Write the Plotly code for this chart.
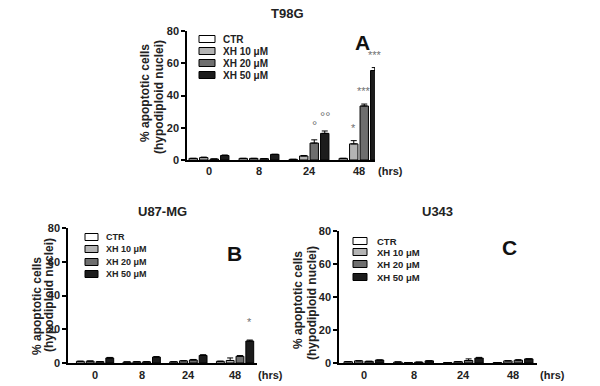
import plotly.graph_objects as go

times = ["0", "8", "24", "48"]
series = ["CTR", "XH 10 μM", "XH 20 μM", "XH 50 μM"]
colors = ["#ffffff", "#b4b4b4", "#6e6e6e", "#1c1c1c"]

# Panel A: T98G
a_vals = {
    "CTR": [1.0, 1.0, 0.4, 1.0],
    "XH 10 μM": [1.5, 1.0, 2.5, 10.0],
    "XH 20 μM": [0.6, 0.8, 10.5, 33.5],
    "XH 50 μM": [2.8, 3.5, 16.5, 55.5],
}
a_err = {
    "CTR": [0, 0, 0, 0],
    "XH 10 μM": [0.3, 0, 0.3, 2.0],
    "XH 20 μM": [0, 0, 2.0, 1.2],
    "XH 50 μM": [0.3, 0, 1.5, 1.8],
}
# Panel B: U87-MG
b_vals = {
    "CTR": [1.0, 0.6, 0.7, 1.0],
    "XH 10 μM": [1.1, 0.7, 1.3, 1.5],
    "XH 20 μM": [0.8, 0.7, 1.8, 4.0],
    "XH 50 μM": [3.0, 3.5, 4.5, 13.0],
}
b_err = {
    "CTR": [0, 0, 0, 0],
    "XH 10 μM": [0, 0, 0, 1.5],
    "XH 20 μM": [0, 0, 0.3, 0.4],
    "XH 50 μM": [0.3, 0.3, 0.4, 0.6],
}
# Panel C: U343
c_vals = {
    "CTR": [0.8, 0.6, 0.3, 0.3],
    "XH 10 μM": [1.3, 0.3, 0.8, 1.3],
    "XH 20 μM": [1.0, 0.5, 1.5, 1.7],
    "XH 50 μM": [1.8, 1.3, 3.0, 2.5],
}
c_err = {
    "CTR": [0, 0, 0, 0],
    "XH 10 μM": [0, 0, 0, 0],
    "XH 20 μM": [0, 0, 1.0, 0.3],
    "XH 50 μM": [0, 0, 0.4, 0],
}

# significance marks: (series, time index, label)
a_marks = [("XH 20 μM", 2, "°"), ("XH 50 μM", 2, "°°"), ("XH 10 μM", 3, "*"),
           ("XH 20 μM", 3, "***"), ("XH 50 μM", 3, "***")]
b_marks = [("XH 50 μM", 3, "*")]
c_marks = []

BARGAP = 0.16
GROUPGAP = 0.2

FONT = "Liberation Sans, Arial, sans-serif"

panels = [
    dict(title="T98G", vals=a_vals, err=a_err, marks=a_marks, letter="A",
         x0=187, x1=375, y0=160, y80=31, xr=[-0.44, 3.32], tpos=(287, 13),
         lpos=(362, 43), leg=(199, 215, [39, 51, 63, 75], 221), legsize=10,
         ytx=(145, 159), yty=(93, 97), hrs=(390, 171), xl=171, markshift=5),
    dict(title="U87-MG", vals=b_vals, err=b_err, marks=b_marks, letter="B",
         x0=68, x1=257, y0=363, y80=228, xr=[-0.58, 3.47], tpos=(162, 212),
         lpos=(234, 253), leg=(85, 98, [237, 249, 262, 274], 104), legsize=9,
         ytx=(37, 49), yty=(306, 295), hrs=(270, 375), xl=375, markshift=10),
    dict(title="U343", vals=c_vals, err=c_err, marks=c_marks, letter="C",
         x0=339, x1=537, y0=363, y80=231, xr=[-0.5, 3.48], tpos=(437, 212),
         lpos=(509, 248), leg=(353, 367, [241, 252, 264, 277], 375), legsize=9.5,
         ytx=(298, 312), yty=(300, 303), hrs=(552, 375), xl=375, markshift=5),
]

W, H = 600, 386
fig = go.Figure()
annotations = []
shapes = []

def px(x):
    return x / W

def py(y):
    return 1 - y / H

nser = len(series)
bw = (1 - BARGAP) / nser
tickfont = dict(family=FONT, size=11, color="#222222", weight="bold")
ytfont = dict(family=FONT, size=12, color="#222222", weight="bold")

def note(x, y, text, font, xref="paper", yref="paper", **kw):
    d = dict(x=x, y=y, xref=xref, yref=yref, text=text, showarrow=False, font=font,
             xanchor="center", yanchor="middle")
    d.update(kw)
    annotations.append(d)

for k, p in enumerate(panels):
    suffix = "" if k == 0 else str(k + 1)
    xa = "x" + suffix
    ya = "y" + suffix
    for i, s in enumerate(series):
        fig.add_trace(go.Bar(
            x=list(range(len(times))), y=p["vals"][s], name=s,
            marker=dict(color=colors[i], line=dict(color="#000000", width=1)),
            error_y=dict(type="data", array=p["err"][s], arrayminus=[0] * len(times),
                         symmetric=False, color="#000000", thickness=1, width=3),
            xaxis=xa, yaxis=ya, showlegend=False,
        ))
    fig.layout["xaxis" + suffix] = dict(
        domain=[px(p["x0"]), px(p["x1"])], range=p["xr"], anchor=ya,
        showline=True, linecolor="#000000", linewidth=1.5, ticks="",
        showticklabels=False, showgrid=False, zeroline=False, fixedrange=True,
        automargin=False,
    )
    fig.layout["yaxis" + suffix] = dict(
        domain=[py(p["y0"]), py(p["y80"])], range=[0, 80], anchor=xa,
        tickvals=[0, 20, 40, 60, 80], showline=True, linecolor="#000000",
        linewidth=1.5, ticks="outside", ticklen=4, tickwidth=1.5, tickcolor="#000000",
        tickfont=tickfont, showgrid=False, zeroline=False, fixedrange=True,
        ticklabelstandoff=0, automargin=False,
    )
    for j, t in enumerate(times):
        note(j, py(p["xl"]), t, tickfont, xref=xa)
    note(px(p["hrs"][0]), py(p["hrs"][1]), "(hrs)", tickfont)
    note(px(p["tpos"][0]), py(p["tpos"][1]), p["title"],
         dict(family=FONT, size=13, color="#222222", weight="bold"))
    note(px(p["lpos"][0]), py(p["lpos"][1]), p["letter"],
         dict(family=FONT, size=21, color="#111111", weight="bold"))
    note(px(p["ytx"][0]), py(p["yty"][0]), "% apoptotic cells", ytfont, textangle=-90)
    note(px(p["ytx"][1]), py(p["yty"][1]), "(hypodiploid nuclei)", ytfont, textangle=-90)
    bx0, bx1, rows, tx = p["leg"]
    for i, s in enumerate(series):
        yc = rows[i]
        shapes.append(dict(type="rect", xref="paper", yref="paper",
                           x0=px(bx0), x1=px(bx1), y0=py(yc + 3.5), y1=py(yc - 3.5),
                           fillcolor=colors[i], line=dict(color="#000000", width=1)))
        note(px(tx), py(yc), s,
             dict(family=FONT, size=p["legsize"], color="#222222", weight="bold"),
             xanchor="left")
    for s, j, lab in p["marks"]:
        i = series.index(s)
        xoff = -(1 - BARGAP) / 2 + (i + 0.5) * bw
        top = p["vals"][s][j] + p["err"][s][j]
        size = 13 if "°" in lab else 11
        note(j + xoff, top, lab, dict(family=FONT, size=size, color="#707070"),
             xref=xa, yref=ya, yanchor="bottom", yshift=p["markshift"])

fig.update_layout(
    width=W, height=H, margin=dict(l=0, r=0, t=0, b=0, autoexpand=False),
    paper_bgcolor="#ffffff", plot_bgcolor="#ffffff",
    barmode="group", bargap=BARGAP, bargroupgap=GROUPGAP,
    annotations=annotations, shapes=shapes, showlegend=False,
)

fig.write_html("out.html", config={"displayModeBar": False},
               post_script="document.body.style.margin='0';")
